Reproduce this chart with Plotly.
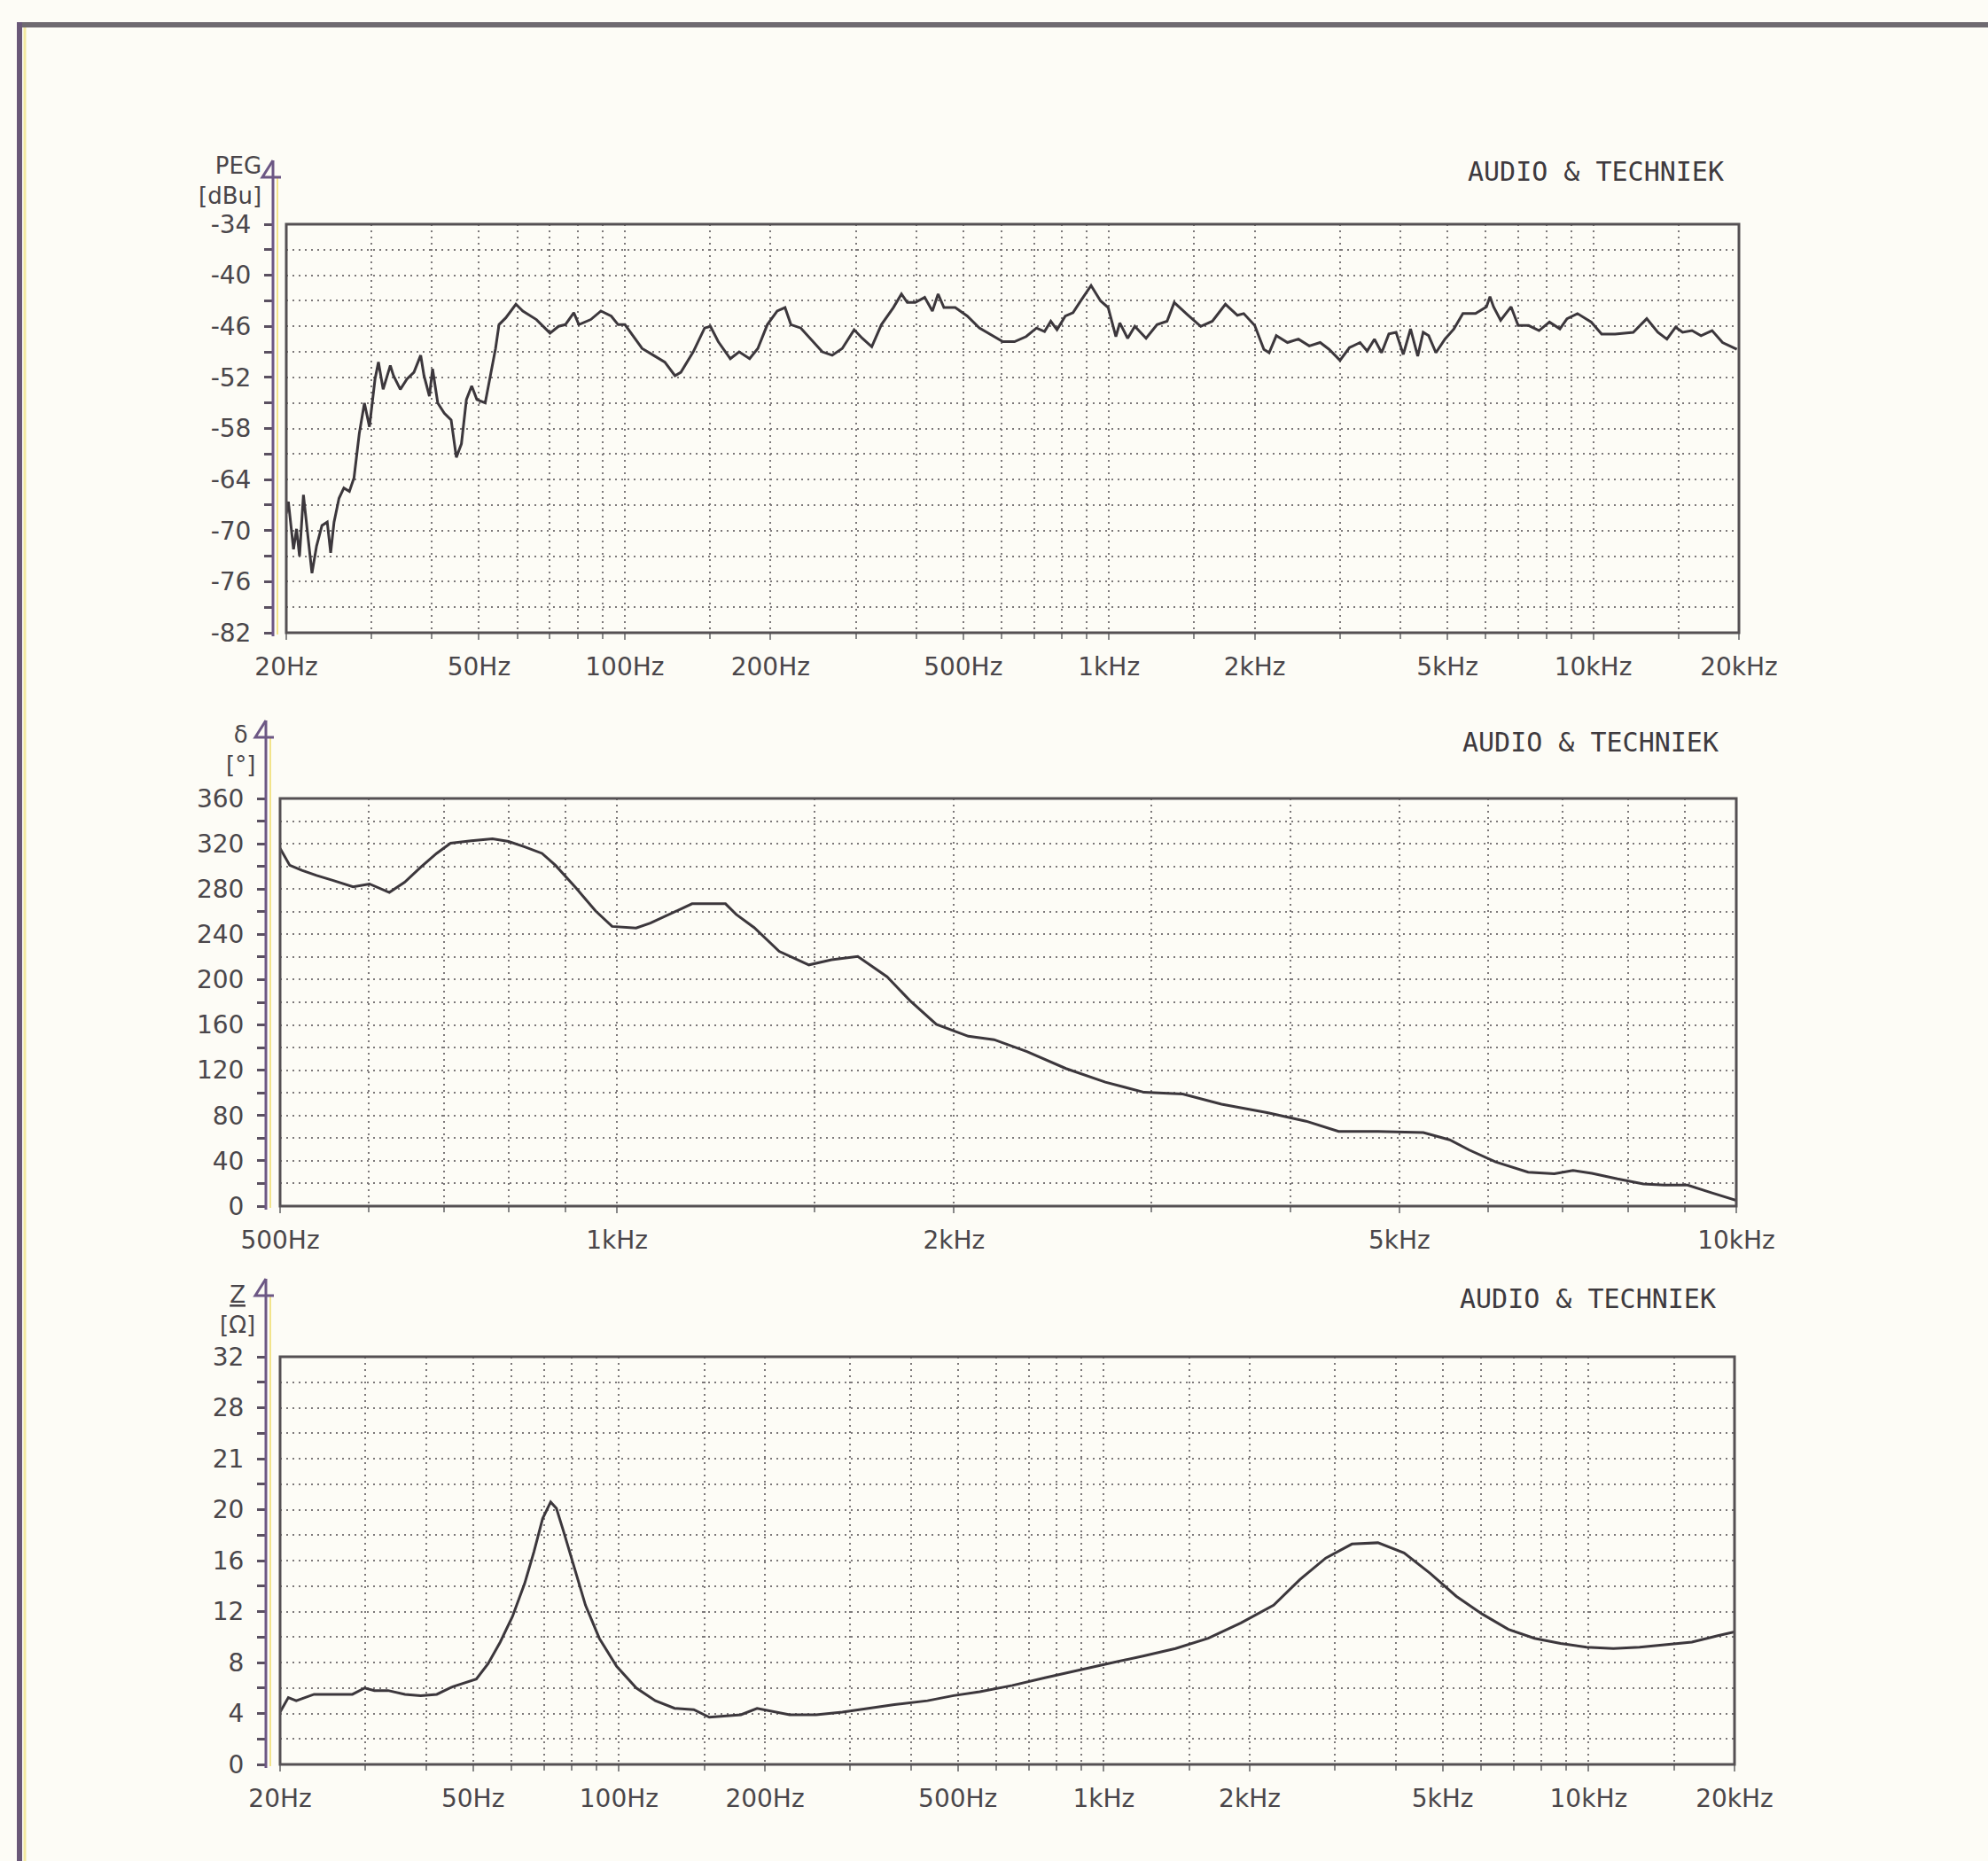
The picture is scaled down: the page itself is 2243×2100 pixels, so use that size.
import math
import plotly.graph_objects as go

# ---------------- data ----------------
# Plot 1: frequency response (PEG, dBu)
peg_freq = [20.0, 20.2, 20.7, 21.0, 21.3, 21.7, 22.2, 22.6, 23.1, 23.7, 24.3, 24.7, 25.1, 25.7,
            26.3, 27.0, 27.6, 28.3, 29.0, 29.7, 30.5, 31.0, 31.7, 32.8, 33.3, 34.4, 35.5, 36.7,
            37.9, 38.5, 39.5, 40.1, 41.1, 42.4, 43.8, 44.9, 46.0, 47.1, 48.3, 49.5, 51.5, 52.8,
            54.1, 55.0, 56.8, 59.6, 61.6, 65.7, 70.1, 73.0, 75.4, 78.5, 80.4, 85.1, 89.3, 93.8,
            96.9, 100.1,
            102.5, 108.6, 114.6, 121, 127, 130.6, 138.5, 146.2, 150.3, 156, 165.2, 172.3, 181.1,
            188.3, 197, 206.5, 214.3, 220.4, 231, 241.8, 255.9, 268.2, 281.3, 297.7, 309.4, 323.7,
            338.9, 358.7, 372.8, 383.3, 398.1, 416.4, 431.9, 443.8, 456.2, 481.4, 510, 539.9,
            570.6, 603.6, 638.2, 674.6, 708.6, 736.2, 758.3, 781.1, 812.4, 843, 874.5, 918.5,
            960.7, 996.3, 1033.5, 1053, 1093, 1131, 1193, 1257, 1318, 1364, 1451, 1547, 1635,
            1740, 1842, 1898, 2000, 2089, 2142, 2216, 2337, 2462, 2592, 2730, 2849, 3000, 3138,
            3300, 3415, 3534, 3657, 3785, 3917, 4054, 4196, 4342, 4456, 4574, 4734, 4941, 5157,
            5383, 5715, 6019, 6122, 6226, 6440, 6768, 7000, 7356, 7731, 8123, 8536, 8830, 9280,
            9909, 10410, 11100, 12100, 12900, 13600, 14200, 14800, 15300, 16000, 16700, 17600,
            18500, 19800]
peg_db = [-68.0, -66.6, -72.2, -69.8, -73.0, -65.8, -71.0, -75.0, -71.8, -69.4, -69.0, -72.6, -69.0,
          -66.2, -65.0, -65.4, -63.8, -58.6, -55.0, -57.8, -52.2, -50.2, -53.4, -50.6, -51.8, -53.4,
          -52.2, -51.4, -49.4, -51.8, -54.2, -51.0, -55.0, -56.2, -57.0, -61.4, -59.8, -54.6, -53.0,
          -54.6, -55.0, -51.8, -48.6, -45.8, -45.0, -43.4, -44.2, -45.2, -46.8, -46.0, -45.8, -44.4,
          -45.8, -45.2, -44.2, -44.8, -45.8, -45.8,
          -46.6, -48.6, -49.4, -50.2, -51.8, -51.4, -49.0, -46.2, -46.0, -47.8, -49.8, -49.0, -49.8,
          -48.6, -45.8, -44.2, -43.8, -45.8, -46.2, -47.4, -49.0, -49.4, -48.6, -46.4, -47.4, -48.4,
          -45.8, -43.8, -42.2, -43.2, -43.2, -42.6, -44.2, -42.2, -43.8, -43.8, -44.8, -46.2,
          -47.0, -47.8, -47.8, -47.2, -46.2, -46.6, -45.4, -46.4, -44.8, -44.4, -43.0, -41.2,
          -43.0, -43.8, -47.2, -45.6, -47.4, -46.0, -47.4, -45.8, -45.4, -43.2, -44.6, -46.0, -45.4,
          -43.4, -44.7, -44.5, -45.9, -48.7, -49.1, -47.1, -47.9, -47.5, -48.3, -47.9, -48.7, -50.0,
          -48.5, -47.9, -48.9, -47.5, -49.1, -46.9, -46.7, -49.3, -46.3, -49.5, -46.7, -47.1, -49.1,
          -47.5, -46.3, -44.5, -44.5, -43.7, -42.5, -43.7, -45.3, -43.7, -45.9, -45.9, -46.5, -45.5,
          -46.3, -45.1, -44.5, -45.5, -46.9, -46.9, -46.7, -45.1, -46.7, -47.5, -46.1, -46.7, -46.5,
          -47.1, -46.5, -47.9, -48.7]

# Plot 2: phase (degrees), 500 Hz - 10 kHz
ph_freq = [500, 502, 510, 523, 539, 558, 581, 601, 626, 646, 668, 690, 710, 741, 774, 800, 826, 857,
           881, 918, 957, 990, 1040, 1071, 1120, 1167, 1250, 1278,
           1326, 1396, 1484, 1555, 1641, 1743, 1827, 1929, 2060, 2172, 2324, 2518, 2731, 2958, 3202,
           3468, 3809, 4127, 4413, 4784, 5253, 5546, 5774, 6095, 6517, 6877, 7146, 7430, 7832, 8260,
           8621, 9046, 9486, 10000]
ph_deg = [316, 313, 301, 296.5, 292, 287.5, 282, 284.5, 277, 286, 299.5, 311.5, 320.5, 322.6, 324.4,
          322, 317.5, 311.5, 301, 281.5, 260.6, 247, 245.6, 250, 259, 267, 267, 257.6,
          246, 225, 213, 217.5, 220.5, 202.5, 181.5, 160.5, 150, 147, 136.5, 121.5, 109.5, 100.5, 99,
          90, 82.5, 75, 66, 66, 65, 58.5, 49.5, 39, 30, 28.5, 31.5, 29, 24, 19.5, 18.5, 18.5, 12, 5]

# Plot 3: impedance (ohm)
z_freq = [20.0, 20.8, 21.6, 23.5, 25.8, 28.2, 29.9, 31.3, 33.4, 36.2, 39.0, 42.1, 45.4, 48.0, 50.8,
          53.7, 56.9, 60.3, 63.9, 66.8, 69.6, 72.3, 74.3, 77.0, 80.6, 85.3, 91.1, 98.9, 108.6, 118.9,
          130.3, 142.7, 153.6, 165.2, 178.5, 192.7,
          225, 255, 289, 327, 370, 433, 490, 555, 648, 756, 883, 1016, 1205, 1406, 1643, 1918, 2241,
          2536, 2870, 3250, 3678, 4163, 4712, 5334, 6037, 6833, 7734, 8754, 9908, 11250, 12740,
          14420, 16330, 18480, 20000]
z_ohm = [4.1, 5.25, 5.0, 5.5, 5.5, 5.5, 6.0, 5.8, 5.8, 5.5, 5.4, 5.5, 6.1, 6.4, 6.7, 7.9, 9.6, 11.6,
         14.2, 16.7, 19.3, 20.6, 20.1, 18.2, 15.6, 12.5, 9.9, 7.7, 6.0, 5.0, 4.4, 4.3, 3.7, 3.8, 3.9,
         4.4,
         3.9, 3.9, 4.1, 4.4, 4.7, 5.0, 5.4, 5.7, 6.2, 6.8, 7.4, 7.9, 8.5, 9.1, 9.9, 11.1, 12.5, 14.5,
         16.2, 17.3, 17.4, 16.6, 15.0, 13.2, 11.8, 10.6, 9.9, 9.5, 9.2, 9.1, 9.2, 9.4, 9.6, 10.1, 10.4]

# tick labels / grid positions
wide_tickvals = [20, 50, 100, 200, 500, 1000, 2000, 5000, 10000, 20000]
wide_ticktext = ["20Hz", "50Hz", "100Hz", "200Hz", "500Hz", "1kHz", "2kHz", "5kHz", "10kHz", "20kHz"]
wide_minor = [30, 40, 60, 70, 80, 90, 150, 300, 400, 600, 700, 800, 900, 1500,
              3000, 4000, 6000, 7000, 8000, 9000, 15000]
ph_tickvals = [500, 1000, 2000, 5000, 10000]
ph_ticktext = ["500Hz", "1kHz", "2kHz", "5kHz", "10kHz"]
ph_minor = [600, 700, 800, 900, 1500, 3000, 4000, 6000, 7000, 8000, 9000]

peg_ytick = [-82, -76, -70, -64, -58, -52, -46, -40, -34]
peg_ytext = ["-82", "-76", "-70", "-64", "-58", "-52", "-46", "-40", "-34"]
peg_yminor = [-79, -73, -67, -61, -55, -49, -43, -37]
ph_ytick = [0, 40, 80, 120, 160, 200, 240, 280, 320, 360]
ph_ytext = ["0", "40", "80", "120", "160", "200", "240", "280", "320", "360"]
ph_yminor = [20, 60, 100, 140, 180, 220, 260, 300, 340]
z_ytick = [0, 4, 8, 12, 16, 20, 24, 28, 32]
z_ytext = ["0", "4", "8", "12", "16", "20", "21", "28", "32"]
z_yminor = [2, 6, 10, 14, 18, 22, 26, 30]

brand = "AUDIO & TECHNIEK"

# ---------------- layout helpers ----------------
W, H = 2243, 2100


def px(x):
    return x / W


def py(y):
    return 1 - y / H


BG = "#fdfcf6"
GRID = "#7c7879"
TXT = "#4a464a"
FONT = "DejaVu Sans"

fig = go.Figure()
for xs, ys, xa, ya in [(peg_freq, peg_db, "x", "y"), (ph_freq, ph_deg, "x2", "y2"),
                       (z_freq, z_ohm, "x3", "y3")]:
    fig.add_trace(go.Scatter(x=xs, y=ys, xaxis=xa, yaxis=ya, mode="lines",
                             line=dict(color="#3c373c", width=3), showlegend=False,
                             hoverinfo="skip"))

panels = [
    dict(x="x", y="y", l=323, r=1962, t=253, b=714, ax=308, at=181,
         xr=(20, 20000), xtv=wide_tickvals, xtt=wide_ticktext, xmin=wide_minor,
         yr=(-82, -34), ytv=peg_ytick, ytt=peg_ytext, ymin=peg_yminor),
    dict(x="x2", y="y2", l=316, r=1959, t=901, b=1361, ax=300, at=813,
         xr=(500, 10000), xtv=ph_tickvals, xtt=ph_ticktext, xmin=ph_minor,
         yr=(0, 360), ytv=ph_ytick, ytt=ph_ytext, ymin=ph_yminor),
    dict(x="x3", y="y3", l=316, r=1957, t=1531, b=1991, ax=300, at=1443,
         xr=(20, 20000), xtv=wide_tickvals, xtt=wide_ticktext, xmin=wide_minor,
         yr=(0, 32), ytv=z_ytick, ytt=z_ytext, ymin=z_yminor),
]

shapes = []
layout_axes = {}
for i, p in enumerate(panels):
    xname = "xaxis" if i == 0 else f"xaxis{i+1}"
    yname = "yaxis" if i == 0 else f"yaxis{i+1}"
    layout_axes[xname] = dict(
        domain=[px(p["l"]), px(p["r"])], anchor=p["y"], type="log",
        range=[math.log10(p["xr"][0]), math.log10(p["xr"][1])],
        tickmode="array", tickvals=p["xtv"], ticktext=p["xtt"],
        showgrid=True, gridcolor=GRID, griddash="2px,5px", gridwidth=2,
        minor=dict(tickmode="array", tickvals=p["xmin"], showgrid=True, gridcolor=GRID,
                   griddash="2px,5px", gridwidth=2, ticks="outside", ticklen=6,
                   tickcolor="#888", tickwidth=2),
        ticks="outside", ticklen=7, tickwidth=2, tickcolor="#888",
        ticklabelstandoff=6,
        showline=False, zeroline=False, automargin=False,
        tickfont=dict(family=FONT, size=28, color=TXT),
        fixedrange=True,
    )
    layout_axes[yname] = dict(
        domain=[py(p["b"]), py(p["t"])], anchor="free", position=px(p["ax"]),
        range=list(p["yr"]),
        tickmode="array", tickvals=p["ytv"], ticktext=p["ytt"],
        showgrid=True, gridcolor=GRID, griddash="2px,5px", gridwidth=2,
        minor=dict(tickmode="array", tickvals=p["ymin"], showgrid=True, gridcolor=GRID,
                   griddash="2px,5px", gridwidth=2, ticks="outside", ticklen=10,
                   tickcolor="#5a5060", tickwidth=3),
        ticks="outside", ticklen=10, tickwidth=3, tickcolor="#5a5060",
        ticklabelstandoff=9,
        showline=False, zeroline=False, automargin=False,
        tickfont=dict(family=FONT, size=28, color=TXT),
        fixedrange=True,
    )
    # plot frame
    shapes.append(dict(type="rect", xref=f"{p['x']} domain", yref=f"{p['y']} domain",
                       x0=0, x1=1, y0=0, y1=1, line=dict(color="#555053", width=3),
                       layer="above"))
    # left axis line with scan colour fringe
    shapes.append(dict(type="line", xref="paper", yref="paper",
                       x0=px(p["ax"] + 5), x1=px(p["ax"] + 5), y0=py(p["b"] + 2), y1=py(p["at"] + 20),
                       line=dict(color="#f2e38a", width=2)))
    shapes.append(dict(type="line", xref="paper", yref="paper",
                       x0=px(p["ax"]), x1=px(p["ax"]), y0=py(p["b"] + 4), y1=py(p["at"]),
                       line=dict(color="#6c5784", width=3)))
    # half arrow head ("4" shape)
    a, t = p["ax"], p["at"]
    shapes.append(dict(type="path", xref="paper", yref="paper",
                       path=f"M {px(a)},{py(t)} L {px(a-12)},{py(t+19)} L {px(a+9)},{py(t+19)}",
                       line=dict(color="#6c5784", width=3)))

# outer page frame from the scan
shapes.append(dict(type="line", xref="paper", yref="paper", x0=px(20), x1=1, y0=py(28), y1=py(28),
                   line=dict(color="#6f6a70", width=6)))
shapes.append(dict(type="line", xref="paper", yref="paper", x0=px(22), x1=px(22), y0=py(25), y1=0,
                   line=dict(color="#6a5878", width=6)))
shapes.append(dict(type="line", xref="paper", yref="paper", x0=px(28), x1=px(28), y0=py(31), y1=0,
                   line=dict(color="#f4eaa0", width=3)))

annotations = [
    dict(text="PEG<br>[dBu]", x=px(297), y=py(204), xref="paper", yref="paper",
         xanchor="right", yanchor="middle", align="right", showarrow=False,
         font=dict(family=FONT, size=26, color=TXT)),
    dict(text="δ<br>[°]", x=px(290), y=py(846), xref="paper", yref="paper",
         xanchor="right", yanchor="middle", align="center", showarrow=False,
         font=dict(family=FONT, size=26, color=TXT)),
    dict(text="<u>Z</u><br>[Ω]", x=px(290), y=py(1478), xref="paper", yref="paper",
         xanchor="right", yanchor="middle", align="center", showarrow=False,
         font=dict(family=FONT, size=26, color=TXT)),
    dict(text=brand, x=px(1947), y=py(194), xref="paper", yref="paper",
         xanchor="right", yanchor="middle", showarrow=False,
         font=dict(family="DejaVu Sans Mono", size=30, color="#3e3a3e")),
    dict(text=brand, x=px(1941), y=py(837), xref="paper", yref="paper",
         xanchor="right", yanchor="middle", showarrow=False,
         font=dict(family="DejaVu Sans Mono", size=30, color="#3e3a3e")),
    dict(text=brand, x=px(1938), y=py(1465), xref="paper", yref="paper",
         xanchor="right", yanchor="middle", showarrow=False,
         font=dict(family="DejaVu Sans Mono", size=30, color="#3e3a3e")),
]

fig.update_layout(
    width=W, height=H, autosize=False,
    margin=dict(l=0, r=0, t=0, b=0, pad=0, autoexpand=False),
    paper_bgcolor=BG, plot_bgcolor=BG,
    showlegend=False,
    shapes=shapes, annotations=annotations,
    **layout_axes,
)

fig.write_html("out.html", config={"displayModeBar": False},
               post_script="document.body.style.margin='0';document.body.style.background='#fdfcf6';")
